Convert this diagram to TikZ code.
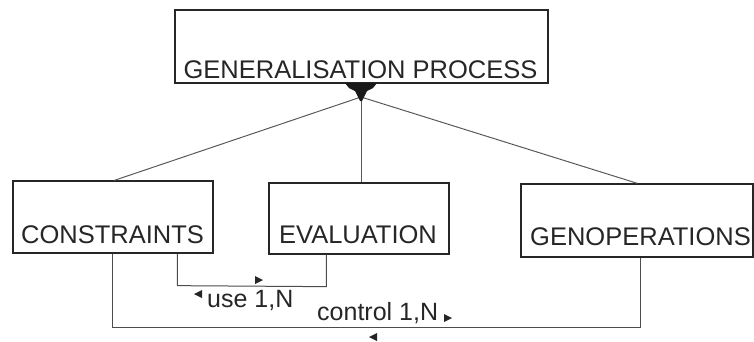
\documentclass[tikz,border=0pt]{standalone}
\usepackage{fontspec}
\setmainfont{Liberation Sans}
\usetikzlibrary{calc}
\begin{document}
\begin{tikzpicture}[x=1pt,y=-1pt,
  box/.style={draw=black!85,line width=1.3pt,rectangle,inner sep=0pt},
  boxtext/.style={anchor=base,inner sep=0pt,font=\fontsize{25.5}{25.5}\selectfont,text=black!85},
  lbltext/.style={anchor=base west,inner sep=0pt,font=\fontsize{25}{25}\selectfont,text=black!85},
  link/.style={draw=black!65,line width=1pt},
  conn/.style={draw=black!70,line width=1pt},
  tip/.style={fill=black!85}]
\useasboundingbox (0,0) rectangle (754,341);
% boxes
\node[box,minimum width=373pt,minimum height=73pt] (gp) at (361.5,46.5) {};
\node[box,minimum width=200pt,minimum height=72pt] (cons) at (113,217) {};
\node[box,minimum width=180pt,minimum height=71pt] (eval) at (359,218.5) {};
\node[box,minimum width=232pt,minimum height=73pt] (genop) at (637,220.5) {};
% texts
\node[boxtext] (gpt) at (360.5,78) {GENERALISATION PROCESS};
\node[boxtext] (const) at (112.5,243) {CONSTRAINTS};
\node[boxtext] (evalt) at (358,243) {EVALUATION};
\node[boxtext] (genopt) at (640.5,245) {GENOPERATIONS};
% aggregation
\coordinate (agg) at (361,97);
\draw[link] (agg) -- ([xshift=102pt]cons.north west);
\draw[link] (agg) -- (eval.north -| agg);
\draw[link] (agg) -- ([xshift=117pt]genop.north west);
\fill[black!90] (345,83) -- (377,83) -- (373,88) -- (367,91) -- (362,101) -- (360,101)
  -- (355,91) -- (349,88) -- cycle;
% use connector
\coordinate (u1) at ([xshift=165pt]cons.south west);
\coordinate (u2) at ([xshift=58pt]eval.south west);
\draw[conn] (u1) -- ($(u1)+(0,32)$) -- ($(u2)+(0,32)$) -- (u2);
% control connector
\coordinate (c1) at ([xshift=100pt]cons.south west);
\coordinate (c2) at ([xshift=120pt]genop.south west);
\draw[conn] (c1) -- (c1 |- 0,327) -- (c2 |- 0,327) -- (c2);
% labels
\node[lbltext] (usel) at (207,307) {use 1,N};
\node[lbltext] (ctrll) at (317,320) {control 1,N};
% arrowheads
\fill[tip] (255,276) -- (263,280) -- (255,284) -- cycle;
\fill[tip] (202,290) -- (194,294) -- (202,298) -- cycle;
\fill[tip] (444,314) -- (452,318) -- (444,322) -- cycle;
\fill[tip] (377,333) -- (369,337) -- (377,341) -- cycle;
\end{tikzpicture}
\end{document}
